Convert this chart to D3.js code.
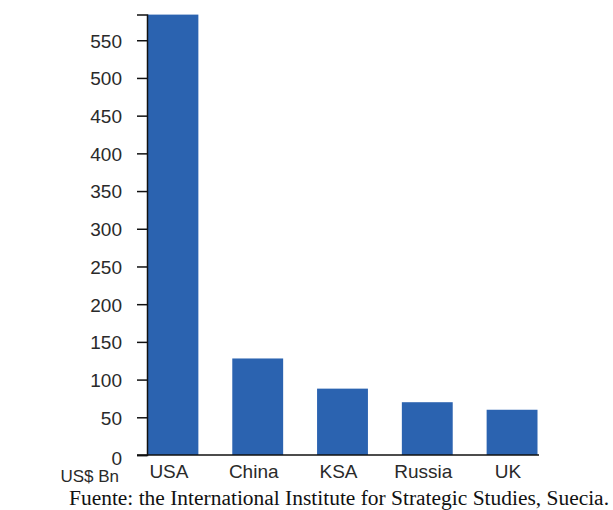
<!DOCTYPE html>
<html>
<head>
<meta charset="utf-8">
<script src="https://cdn.jsdelivr.net/npm/d3@7"></script>
<style>
  body { margin: 0; background: #fff; }
  svg { display: block; }
  .tick-label { font-family: "Liberation Sans", Arial, sans-serif; fill: #2a2a2a; }
  .source { font-family: "Liberation Serif", "Times New Roman", serif; fill: #111; }
</style>
</head>
<body>
<svg id="chart"></svg>
<script>
const countries = ["USA", "China", "KSA", "Russia", "UK"];
const spending = [584, 128, 88, 70, 60];
const yTicks = [0, 50, 100, 150, 200, 250, 300, 350, 400, 450, 500, 550];
const unitLabel = "US$ Bn";
const sourceText = "Fuente: the International Institute for Strategic Studies, Suecia.";

const width = 613;
const height = 510;

const svg = d3.select("svg#chart").attr("width", width).attr("height", height);

const x = d3
  .scaleBand()
  .domain(countries)
  .range([147.5, 537.5])
  .paddingInner(0.4)
  .paddingOuter(0);

const y = d3.scaleLinear().domain([0, 584]).range([455, 14.6]);

// bars
svg
  .append("g")
  .selectAll("rect")
  .data(countries)
  .enter()
  .append("rect")
  .attr("x", (d) => x(d))
  .attr("y", (d, i) => y(spending[i]))
  .attr("width", x.bandwidth())
  .attr("height", (d, i) => y(0) - y(spending[i]))
  .attr("fill", "#2b63b0");

// y axis
const yAxis = svg
  .append("g")
  .attr("transform", "translate(147,0)")
  .call(d3.axisLeft(y).tickValues(yTicks).tickSize(10).tickPadding(15));
yAxis.select(".domain").attr("stroke", "#111").attr("stroke-width", 1.5);
yAxis.selectAll(".tick line").attr("stroke", "#111").attr("stroke-width", 1.5);
yAxis
  .selectAll(".tick text")
  .attr("class", "tick-label")
  .attr("font-size", 19)
  .attr("dy", (d) => (d === 0 ? "0.48em" : "0.36em"));

// x axis line
svg
  .append("line")
  .attr("x1", 137)
  .attr("x2", 539)
  .attr("y1", y(0))
  .attr("y2", y(0))
  .attr("stroke", "#111")
  .attr("stroke-width", 1.5);

// category labels
svg
  .append("g")
  .selectAll("text")
  .data(countries)
  .enter()
  .append("text")
  .attr("class", "tick-label")
  .attr("x", (d) => x(d) + x.bandwidth() / 2 - 4)
  .attr("y", 478)
  .attr("text-anchor", "middle")
  .attr("font-size", 19)
  .text((d) => d);

// unit label
svg
  .append("text")
  .attr("class", "tick-label")
  .attr("x", 119)
  .attr("y", 482)
  .attr("text-anchor", "end")
  .attr("font-size", 17)
  .text(unitLabel);

// source
svg
  .append("text")
  .attr("class", "source")
  .attr("x", 69)
  .attr("y", 505)
  .attr("font-size", 20)
  .attr("textLength", 540)
  .attr("lengthAdjust", "spacingAndGlyphs")
  .text(sourceText);
</script>
</body>
</html>
